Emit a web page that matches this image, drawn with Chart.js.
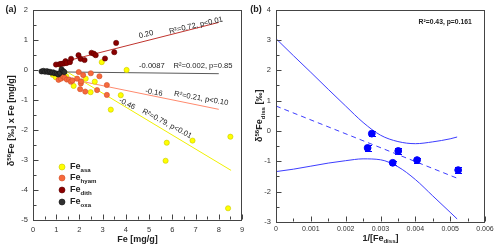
<!DOCTYPE html>
<html><head><meta charset="utf-8">
<script src="https://cdn.jsdelivr.net/npm/chart.js@4.4.0/dist/chart.umd.min.js"></script>
<style>
html,body{margin:0;padding:0;background:#fff;}
#wrap{position:relative;width:500px;height:250px;}
#ca{position:absolute;left:0;top:0;}
#cb{position:absolute;left:250px;top:0;}
</style></head><body>
<div id="wrap"><canvas id="ca" width="250" height="250"></canvas><canvas id="cb" width="250" height="250"></canvas></div>
<script>
// ---------- Panel (a) data ----------
const asaX  = [0.85,0.98,1.16,1.43,1.75,2.27,2.48,2.66,2.96,3.35,3.78,4.03,5.71,5.76,6.87,8.40,8.50];
const asaY  = [-0.17,-0.25,-0.27,-0.22,-0.54,-0.30,-0.75,-0.40,0.25,-1.33,-0.85,-0.01,-3.03,-2.43,-2.36,-4.61,-2.23];
const hyamX = [1.10,1.20,1.23,1.30,1.37,1.46,1.56,1.63,1.70,1.90,1.97,2.03,2.06,2.07,2.16,2.25,2.49,2.76,2.86,3.18,3.18];
const hyamY = [-0.34,-0.30,-0.19,-0.23,-0.27,-0.33,-0.33,-0.40,-0.36,-0.30,-0.08,-0.65,-0.46,-0.39,-0.18,-0.73,-0.12,-0.68,-0.22,-0.51,-0.84];
const dithX = [0.99,1.13,1.20,1.27,1.35,1.40,1.45,1.59,1.64,1.96,2.05,2.22,2.52,2.62,2.70,3.10,3.50,3.58];
const dithY = [0.17,0.18,0.19,0.20,0.21,0.28,0.22,0.25,0.36,0.48,0.36,0.32,0.56,0.53,0.48,0.37,0.58,0.89];
const oxaX  = [0.37,0.45,0.52,0.60,0.66,0.73,0.80,0.87,0.94,1.02,1.09,1.16,1.23,1.30,1.35];
const oxaY  = [-0.06,-0.04,-0.07,-0.05,-0.08,-0.07,-0.10,-0.09,-0.12,-0.13,-0.16,-0.11,0.01,-0.05,-0.08];
// regression lines (end points)
const fitDithX = [0.95,8.0],  fitDithY = [0.19,1.57];
const fitOxaX  = [0.30,8.0],  fitOxaY  = [-0.068,-0.135];
const fitHyamX = [0.95,8.0],  fitHyamY = [-0.21,-1.32];
const fitAsaX  = [0.90,8.53], fitAsaY  = [0.19,-3.35];
const ticksAX = [0,1,2,3,4,5,6,7,8,9];
const ticksAY = [-5,-4,-3,-2,-1,0,1,2];
const legendSubs = ['asa','hyam','dith','oxa'];

// ---------- Panel (b) data ----------
const bX   = [0.00263,0.00275,0.00335,0.00351,0.00405,0.00523];
const bY   = [-0.56,-0.09,-1.05,-0.66,-0.96,-1.29];
const bErr = [0.09,0.09,0.07,0.09,0.08,0.09];
const fitBX = [0,0.00525], fitBY = [0.82,-1.58];
const bandX  = [0,0.0005,0.001,0.0015,0.002,0.0025,0.003,0.0035,0.004,0.0045,0.005,0.0052];
const bandUp = [3.04,2.48,1.93,1.37,0.82,0.28,-0.14,-0.35,-0.42,-0.36,-0.26,-0.20];
const bandLo = [-1.34,-1.26,-1.16,-1.06,-0.98,-0.92,-0.95,-1.18,-1.60,-2.14,-2.68,-2.90];
const ticksBX = [0,0.001,0.002,0.003,0.004,0.005,0.006];
const ticksBY = [-3,-2,-1,0,1,2,3,4];

const FAM = '"Liberation Sans", Arial, sans-serif';
Chart.defaults.font.family = FAM;
Chart.defaults.color = '#333';

const pts = (xs, ys) => xs.map((x,i)=>({x, y: ys[i]}));

function drawRich(ctx, segs, cx, cy, size, weight, rot, align){
  ctx.save(); ctx.translate(cx, cy); ctx.rotate(rot||0);
  let total = 0; const ms = [];
  for (const s of segs){
    const fs = (s.sub||s.sup) ? size*0.68 : size;
    ctx.font = `${weight} ${fs}px ${FAM}`;
    const w = ctx.measureText(s.t).width; ms.push([fs,w]); total += w;
  }
  let x = align==='left' ? 0 : -total/2;
  ctx.textBaseline = 'middle'; ctx.textAlign = 'left'; ctx.fillStyle = '#222';
  segs.forEach((s,i)=>{
    const [fs,w] = ms[i];
    ctx.font = `${weight} ${fs}px ${FAM}`;
    const dy = s.sub ? size*0.32 : (s.sup ? -size*0.35 : 0);
    ctx.fillText(s.t, x, dy); x += w;
  });
  ctx.restore();
}

const frameTicks = {
  id: 'frameTicks',
  afterDraw(chart, args, o){
    const {ctx, chartArea:a, scales} = chart;
    ctx.save();
    ctx.strokeStyle = '#444'; ctx.lineWidth = 1;
    ctx.strokeRect(Math.round(a.left)+0.5, Math.round(a.top)+0.5, Math.round(a.right-a.left)-1, Math.round(a.bottom-a.top)-1);
    const xs = scales.x, ys = scales.y;
    const bot = Math.round(a.bottom)-0.5, lft = Math.round(a.left)+0.5;
    ctx.beginPath();
    o.xTicks.forEach((v,i)=>{
      const p = Math.round(xs.getPixelForValue(v))+0.5;
      ctx.moveTo(p, bot); ctx.lineTo(p, bot-5);
      if (i < o.xTicks.length-1){
        const m = Math.round(xs.getPixelForValue((v+o.xTicks[i+1])/2))+0.5;
        ctx.moveTo(m, bot); ctx.lineTo(m, bot-3);
      }
    });
    o.yTicks.forEach((v,i)=>{
      const p = Math.round(ys.getPixelForValue(v))+0.5;
      ctx.moveTo(lft, p); ctx.lineTo(lft+5, p);
      if (i < o.yTicks.length-1){
        const m = Math.round(ys.getPixelForValue((v+o.yTicks[i+1])/2))+0.5;
        ctx.moveTo(lft, m); ctx.lineTo(lft+3, m);
      }
    });
    ctx.stroke();
    ctx.restore();
  }
};

const annotA = {
  id: 'annotA',
  afterDraw(chart){
    const {ctx, chartArea:a, scales:{x,y}} = chart;
    const items = [
      ['0.20', 4.87, 1.17, -14],
      ['R\u00b2=0.72, p<0.01', 7.02, 1.47, -13],
      ['-0.0087', 5.12, 0.12, 0],
      ['R\u00b2=0.002, p=0.85', 7.32, 0.12, 0],
      ['-0.16', 5.21, -0.76, 10],
      ['R\u00b2=0.21, p<0.10', 7.24, -0.96, 10],
      ['-0.46', 4.05, -1.14, 27],
      ['R\u00b2=0.79, p<0.01', 5.77, -1.80, 28]
    ];
    ctx.save();
    ctx.fillStyle = '#222'; ctx.font = `7.6px ${FAM}`;
    ctx.textAlign = 'center'; ctx.textBaseline = 'middle';
    for (const [t,vx,vy,r] of items){
      ctx.save(); ctx.translate(x.getPixelForValue(vx), y.getPixelForValue(vy));
      ctx.rotate(r*Math.PI/180); ctx.fillText(t,0,0); ctx.restore();
    }
    ctx.restore();
    // titles
    drawRich(ctx, [{t:'(a)'}], 11, 10, 9, 'bold');
    drawRich(ctx, [{t:'Fe [mg/g]'}], (a.left+a.right)/2, 240, 9, 'bold');
    drawRich(ctx, [{t:'\u03b4'},{t:'56',sup:true},{t:'Fe [\u2030] x Fe [mg/g]'}], 12, (a.top+a.bottom)/2+6, 9, 'bold', -Math.PI/2);
    // legend
    const cols = chart.data.datasets.filter(d=>d.legendIdx!==undefined).sort((p,q)=>p.legendIdx-q.legendIdx);
    const ly = [167,178,190,202];
    cols.forEach((d,i)=>{
      ctx.save();
      ctx.beginPath(); ctx.arc(62, ly[i], 3, 0, Math.PI*2);
      ctx.fillStyle = d.backgroundColor; ctx.fill();
      ctx.lineWidth = 0.6; ctx.strokeStyle = d.borderColor; ctx.stroke();
      ctx.restore();
      drawRich(ctx, [{t:'Fe'},{t:legendSubs[i],sub:true}], 70, ly[i], 9, 'bold', 0, 'left');
    });
  }
};

const annotB = {
  id: 'annotB',
  beforeDatasetsDraw(chart){
    const {ctx, scales:{x,y}} = chart;
    ctx.save(); ctx.strokeStyle = '#0000ff'; ctx.lineWidth = 1;
    ctx.beginPath();
    bX.forEach((vx,i)=>{
      const px = Math.round(x.getPixelForValue(vx))+0.5;
      const t = Math.round(y.getPixelForValue(bY[i]+bErr[i]))+0.5;
      const b = Math.round(y.getPixelForValue(bY[i]-bErr[i]))+0.5;
      ctx.moveTo(px,t); ctx.lineTo(px,b);
      ctx.moveTo(px-3.5,t); ctx.lineTo(px+3.5,t);
      ctx.moveTo(px-3.5,b); ctx.lineTo(px+3.5,b);
    });
    ctx.stroke(); ctx.restore();
  },
  afterDraw(chart){
    const {ctx, chartArea:a, scales:{x,y}} = chart;
    ctx.save();
    ctx.fillStyle = '#222'; ctx.font = `bold 6.8px ${FAM}`;
    ctx.textAlign = 'center'; ctx.textBaseline = 'middle';
    ctx.fillText('R\u00b2=0.43, p=0.161', x.getPixelForValue(0.004857), y.getPixelForValue(3.57));
    ctx.restore();
    drawRich(ctx, [{t:'(b)'}], 6, 10, 9, 'bold');
    drawRich(ctx, [{t:'1/[Fe'},{t:'diss',sub:true},{t:']'}], (a.left+a.right)/2, 238.5, 9, 'bold');
    drawRich(ctx, [{t:'\u03b4'},{t:'56',sup:true},{t:'Fe'},{t:'diss',sub:true},{t:' [\u2030]'}], 10, (a.top+a.bottom)/2, 9, 'bold', -Math.PI/2);
  }
};

function scaleOpts(min, max, arr, fmt, isY, w, fs, pad){
  return {
    type: 'linear', min, max,
    grid: {display:false, drawTicks:false},
    border: {display:false},
    title: {display:false},
    afterBuildTicks: s => { s.ticks = arr.map(v=>({value:v})); },
    afterFit: s => { if (isY) s.width = w; else s.height = w; },
    ticks: {font:{size:fs}, color:'#333', padding: pad, autoSkip:false, maxRotation:0,
            callback: fmt || (v => String(v))}
  };
}

const dot = (label, xs, ys, bg, bd, idx) => ({
  label, data: pts(xs,ys), backgroundColor: bg, borderColor: bd, borderWidth: 0.6,
  pointRadius: 2.6, showLine:false, order: 1, legendIdx: idx
});
const line = (xs, ys, col) => ({
  data: pts(xs,ys), borderColor: col, borderWidth: 1, pointRadius: 0, showLine: true, order: 2, fill:false
});

new Chart(document.getElementById('ca'), {
  type: 'scatter',
  data: { datasets: [
    dot('oxa', oxaX, oxaY, '#303030', '#111111', 3),
    dot('dith', dithX, dithY, '#8b0000', '#5e0000', 2),
    dot('hyam', hyamX, hyamY, '#f7693c', '#d0502a', 1),
    dot('asa', asaX, asaY, '#ffff00', '#c8c800', 0),
    line(fitDithX, fitDithY, '#c0342e'),
    line(fitOxaX, fitOxaY, '#5a5a5a'),
    line(fitHyamX, fitHyamY, '#ff8a6e'),
    line(fitAsaX, fitAsaY, '#f0f000')
  ]},
  options: {
    responsive: false, animation: false, events: [],
    layout: {padding: {left:0, right:8, top:8, bottom:0}},
    plugins: {legend:{display:false}, tooltip:{enabled:false}, frameTicks:{xTicks:ticksAX, yTicks:ticksAY}},
    scales: {
      x: scaleOpts(0, 9, ticksAX, null, false, 30, 7.5, 5),
      y: scaleOpts(-5, 2, ticksAY, null, true, 33, 7.5, 5)
    }
  },
  plugins: [frameTicks, annotA]
});

new Chart(document.getElementById('cb'), {
  type: 'scatter',
  data: { datasets: [
    {data: pts(bX,bY), backgroundColor:'#0000ff', borderColor:'#0000ff', pointRadius:3.4, showLine:false, order:1},
    {data: pts(fitBX,fitBY), borderColor:'#3d3dff', borderWidth:1, borderDash:[5,4], pointRadius:0, showLine:true, order:2},
    {data: pts(bandX,bandUp), borderColor:'#3d3dff', borderWidth:1, pointRadius:0, showLine:true, cubicInterpolationMode:'monotone', order:2},
    {data: pts(bandX,bandLo), borderColor:'#3d3dff', borderWidth:1, pointRadius:0, showLine:true, cubicInterpolationMode:'monotone', order:2}
  ]},
  options: {
    responsive: false, animation: false, events: [],
    layout: {padding: {left:0, right:15, top:8, bottom:0}},
    plugins: {legend:{display:false}, tooltip:{enabled:false}, frameTicks:{xTicks:ticksBX, yTicks:ticksBY}},
    scales: {
      x: scaleOpts(0, 0.006, ticksBX, v => v===0 ? '0' : v.toFixed(3), false, 28, 7, 3),
      y: scaleOpts(-3, 4, ticksBY, null, true, 26, 7.5, 5)
    }
  },
  plugins: [frameTicks, annotB]
});
</script>
</body></html>
